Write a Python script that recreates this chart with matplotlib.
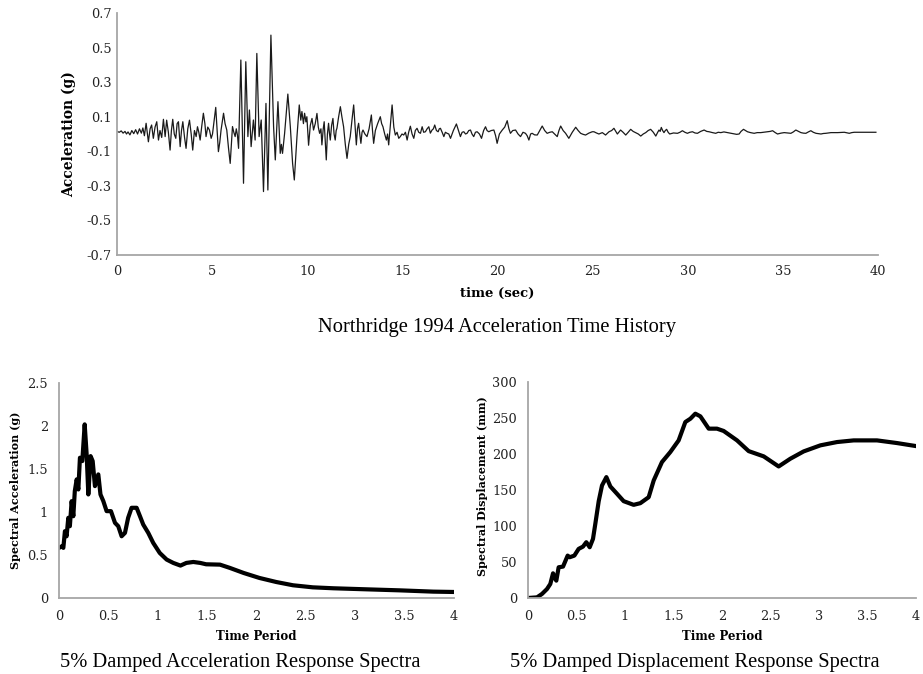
import matplotlib
matplotlib.use("Agg")
import matplotlib.pyplot as plt
import numpy as np

# Northridge 1994 acceleration record, (time s, acceleration g)
quake_early = [
    (0.00, 0.015), (0.12, 0.010), (0.22, 0.018), (0.32, 0.005), (0.42, 0.015),
    (0.50, 0.000), (0.58, 0.012), (0.68, -0.005), (0.78, 0.020), (0.88, 0.002),
    (0.98, 0.025), (1.08, 0.000), (1.18, 0.030), (1.28, 0.005), (1.36, 0.035),
    (1.44, -0.010), (1.53, 0.062), (1.65, -0.045), (1.74, 0.030), (1.82, 0.052),
    (1.91, -0.025), (2.00, 0.040), (2.09, 0.071), (2.18, -0.035), (2.26, 0.020),
    (2.35, -0.020), (2.44, 0.085), (2.53, -0.015), (2.61, 0.080), (2.70, 0.010),
    (2.79, -0.093), (2.86, 0.020), (2.93, 0.085), (3.01, 0.000), (3.09, -0.025),
    (3.16, 0.060), (3.23, 0.071), (3.32, -0.073), (3.39, 0.020), (3.46, 0.071),
    (3.55, -0.020), (3.63, -0.083), (3.72, 0.030), (3.81, 0.080), (3.90, 0.000),
    (3.98, -0.093), (4.07, 0.020), (4.16, -0.015), (4.23, 0.042), (4.30, 0.010),
    (4.37, -0.035), (4.46, 0.050), (4.54, 0.120), (4.62, 0.060), (4.68, -0.015),
    (4.77, 0.040), (4.86, 0.023), (4.95, -0.025), (5.02, 0.000),
]
quake_strong = [
    (5.19, 0.154), (5.33, -0.102), (5.40, -0.050), (5.47, 0.023), (5.60, 0.120),
    (5.68, 0.060), (5.77, 0.023), (5.86, -0.080), (5.95, -0.170), (6.07, 0.043),
    (6.14, 0.010), (6.21, -0.015), (6.27, 0.030), (6.33, -0.006), (6.39, -0.083),
    (6.51, 0.428), (6.65, -0.285), (6.77, 0.418), (6.88, -0.015), (6.96, 0.139),
    (7.05, -0.073), (7.17, 0.081), (7.26, -0.035), (7.35, 0.466), (7.47, -0.015),
    (7.58, 0.081), (7.70, -0.333), (7.83, 0.177), (7.93, -0.324), (8.09, 0.572),
    (8.23, 0.043), (8.32, -0.150), (8.46, 0.187), (8.58, -0.112), (8.64, -0.060),
    (8.70, -0.112), (8.81, 0.004), (8.98, 0.231), (9.11, 0.043), (9.23, -0.170),
    (9.32, -0.266), (9.46, -0.015), (9.58, 0.168), (9.66, 0.080), (9.72, 0.130),
    (9.80, 0.060), (9.86, 0.120), (9.93, 0.070), (9.98, 0.100), (10.07, -0.065),
    (10.16, 0.050), (10.25, 0.090), (10.33, 0.023), (10.42, 0.060), (10.51, 0.119),
    (10.58, 0.040), (10.65, 0.004), (10.72, 0.030), (10.77, -0.063), (10.84, 0.030),
    (10.89, 0.071), (10.95, -0.050), (11.00, -0.150), (11.06, 0.000), (11.12, 0.062),
    (11.17, 0.000), (11.21, -0.035), (11.28, 0.050), (11.35, 0.090), (11.41, 0.000),
    (11.47, -0.035), (11.52, 0.020), (11.56, 0.033), (11.65, 0.100), (11.74, 0.158),
    (11.82, 0.100), (11.91, 0.042), (12.00, -0.060), (12.09, -0.141), (12.18, -0.060),
    (12.26, -0.015), (12.35, 0.080), (12.44, 0.168), (12.51, 0.050), (12.58, -0.063),
    (12.64, 0.030), (12.70, 0.062), (12.76, 0.000), (12.82, -0.054), (12.88, 0.010),
    (12.93, 0.023), (13.03, 0.000), (13.14, -0.015), (13.25, 0.030), (13.37, 0.110),
    (13.43, 0.020), (13.49, -0.054), (13.58, 0.020), (13.70, 0.060), (13.84, 0.100),
    (13.91, 0.060), (13.98, 0.042), (14.07, 0.000), (14.16, -0.035), (14.22, 0.000),
    (14.28, -0.063), (14.37, 0.050), (14.46, 0.168), (14.55, 0.040), (14.63, -0.006),
]
quake_coda = [
    (14.72, 0.010), (14.81, -0.025), (14.89, -0.015), (14.98, 0.000), (15.07, -0.006),
    (15.16, 0.010), (15.25, -0.035), (15.33, 0.010), (15.42, 0.045), (15.51, 0.000),
    (15.60, -0.025), (15.68, 0.020), (15.77, 0.033), (15.86, 0.010), (15.95, 0.004),
    (16.04, 0.042), (16.12, 0.010), (16.21, 0.013), (16.30, 0.030), (16.39, 0.042),
    (16.47, 0.005), (16.56, 0.023), (16.63, 0.030), (16.70, 0.052), (16.79, 0.020),
    (16.88, 0.013), (16.94, 0.030), (17.00, 0.033), (17.09, 0.010), (17.18, -0.015),
    (17.26, 0.010), (17.35, 0.004), (17.44, 0.000), (17.53, -0.025), (17.68, 0.020),
    (17.84, 0.058), (17.95, 0.020), (18.05, -0.015), (18.14, 0.010), (18.23, 0.013),
    (18.32, 0.000), (18.40, 0.004), (18.49, 0.020), (18.58, 0.023), (18.66, 0.000),
    (18.75, -0.015), (18.84, 0.010), (18.93, 0.013), (19.05, 0.000), (19.16, -0.025),
    (19.27, 0.020), (19.37, 0.042), (19.45, 0.020), (19.54, 0.013), (19.67, 0.020),
    (19.81, 0.023), (19.90, -0.010), (19.98, -0.054), (20.10, 0.000), (20.25, 0.023),
    (20.38, 0.040), (20.51, 0.077), (20.60, 0.030), (20.68, 0.004), (20.80, 0.020),
    (20.95, 0.023), (21.08, 0.000), (21.21, -0.015), (21.34, 0.010), (21.47, 0.004),
    (21.56, -0.010), (21.65, -0.035), (21.74, 0.000), (21.82, 0.004), (21.95, -0.005),
    (22.09, -0.006), (22.22, 0.020), (22.35, 0.046), (22.48, 0.020), (22.61, 0.004),
    (22.75, 0.010), (22.88, 0.013), (23.00, 0.000), (23.14, -0.015), (23.23, 0.020),
    (23.32, 0.046), (23.45, 0.020), (23.58, 0.004), (23.66, -0.010), (23.75, -0.025),
    (23.93, 0.010), (24.11, 0.039), (24.24, 0.020), (24.37, 0.004), (24.50, -0.002),
    (24.63, -0.006), (24.80, 0.005), (24.98, 0.013),
]
quake_tail = [
    (25.07, 0.013), (25.20, 0.006), (25.33, 0.000), (25.51, 0.008), (25.68, -0.006),
    (25.86, 0.013), (26.00, 0.020), (26.12, 0.033), (26.30, 0.000), (26.47, 0.023),
    (26.60, 0.010), (26.74, -0.006), (26.87, 0.010), (27.00, 0.027), (27.13, 0.015),
    (27.26, 0.008), (27.40, 0.000), (27.53, -0.012), (27.66, 0.000), (27.79, 0.008),
    (27.92, 0.020), (28.05, 0.027), (28.19, 0.010), (28.32, -0.012), (28.42, 0.010),
    (28.49, 0.023), (28.55, 0.015), (28.61, 0.038), (28.68, 0.020), (28.75, 0.008),
    (28.82, 0.020), (28.89, 0.027), (28.97, 0.010), (29.05, 0.000), (29.25, 0.006),
    (29.46, 0.004), (29.59, 0.010), (29.72, 0.019), (29.85, 0.010), (29.98, 0.004),
    (30.11, 0.010), (30.25, 0.013), (30.38, 0.006), (30.51, 0.004), (30.68, 0.015),
    (30.86, 0.023), (31.00, 0.015), (31.12, 0.013), (31.30, 0.008), (31.47, 0.004),
    (31.60, 0.010), (31.74, 0.008), (31.90, 0.012), (32.09, 0.008), (32.27, 0.004),
    (32.44, 0.000), (32.57, -0.002), (32.70, 0.000), (32.80, 0.015), (32.93, 0.027),
    (33.03, 0.020), (33.14, 0.013), (33.30, 0.008), (33.49, 0.004), (33.65, 0.008),
    (33.84, 0.008), (34.00, 0.010), (34.19, 0.013), (34.33, 0.015), (34.46, 0.019),
    (34.60, 0.008), (34.72, 0.000), (34.90, 0.005), (35.07, 0.008), (35.25, 0.006),
    (35.42, 0.004), (35.55, 0.012), (35.68, 0.023), (35.82, 0.015), (35.95, 0.008),
    (36.08, 0.005), (36.21, 0.004), (36.34, 0.012), (36.47, 0.019), (36.60, 0.010),
    (36.74, 0.004), (36.87, 0.002), (37.00, 0.000), (37.13, 0.003), (37.26, 0.004),
    (37.40, 0.006), (37.53, 0.008), (37.70, 0.008), (37.88, 0.008), (38.05, 0.009),
    (38.23, 0.010), (38.36, 0.007), (38.49, 0.004), (38.62, 0.008), (38.75, 0.010),
    (39.30, 0.010), (39.89, 0.010),
]

# 5% damped acceleration response spectrum
sa_period = [0.0, 0.03, 0.044, 0.06, 0.077, 0.094, 0.11, 0.128, 0.145, 0.16, 0.179,
             0.196, 0.212, 0.236, 0.26, 0.28, 0.297, 0.32, 0.341, 0.364, 0.398, 0.42,
             0.449, 0.482, 0.526, 0.567, 0.60, 0.634, 0.668, 0.70, 0.735, 0.786, 0.82,
             0.853, 0.904, 0.954, 1.02, 1.09, 1.157, 1.23, 1.29, 1.36, 1.43, 1.49, 1.63,
             1.73, 1.87, 2.03, 2.20, 2.37, 2.57, 2.78, 3.11, 3.45, 3.79, 4.0]
sa_value = [0.583, 0.602, 0.583, 0.777, 0.718, 0.932, 0.835, 1.126, 0.951, 1.243, 1.379,
            1.262, 1.631, 1.592, 2.019, 1.67, 1.204, 1.65, 1.592, 1.301, 1.437, 1.204,
            1.126, 1.01, 1.01, 0.874, 0.835, 0.718, 0.757, 0.932, 1.049, 1.049, 0.951,
            0.854, 0.757, 0.641, 0.524, 0.447, 0.408, 0.377, 0.408, 0.419, 0.408, 0.392, 0.388,
            0.35, 0.291, 0.233, 0.186, 0.148, 0.124, 0.113, 0.101, 0.089, 0.074, 0.07]

# 5% damped displacement response spectrum (mm)
sd_period = [0.0, 0.093, 0.144, 0.196, 0.23, 0.258, 0.275, 0.292, 0.316, 0.361, 0.409,
             0.43, 0.478, 0.522, 0.567, 0.601, 0.636, 0.67, 0.694, 0.729, 0.763, 0.808,
             0.849, 0.918, 0.986, 1.089, 1.158, 1.244, 1.296, 1.381, 1.467, 1.553, 1.622,
             1.674, 1.725, 1.777, 1.863, 1.948, 2.017, 2.155, 2.275, 2.43, 2.584, 2.704,
             2.842, 3.014, 3.186, 3.357, 3.598, 3.804, 4.0]
sd_value = [0.0, 0.9, 5.6, 12.5, 19.5, 34.3, 27.8, 24.1, 42.7, 43.6, 58.9,
            56.6, 58.9, 68.2, 71.4, 77.5, 70.5, 82.1, 103.0, 134.5, 156.3, 167.9,
            154.9, 144.7, 134.5, 129.4, 131.7, 140.0, 163.3, 188.8, 202.7, 218.9, 244.4,
            249.0, 256.0, 252.3, 235.2, 235.2, 232.0, 218.9, 204.0, 196.7, 182.7, 193.4,
            203.6, 212.0, 216.6, 218.9, 218.9, 215.2, 211.0]

quake = quake_early + quake_strong + quake_coda + quake_tail
hist_t = [p[0] for p in quake]
hist_a = [p[1] for p in quake]

W, H = 923, 674
fig = plt.figure(figsize=(W / 100, H / 100), dpi=100)

tick_font = {"family": "DejaVu Serif", "size": 9.3}
lab_font = {"family": "DejaVu Serif", "weight": "bold"}
cap_font = {"family": "Liberation Serif", "size": 14.8}
spine_col = "#a6a6a6"


def px_axes(x0, y0, x1, y1):
    return fig.add_axes([x0 / W, 1 - y1 / H, (x1 - x0) / W, (y1 - y0) / H])


def style(ax, ypad, xpad):
    for s in ("top", "right"):
        ax.spines[s].set_visible(False)
    for s in ("left", "bottom"):
        ax.spines[s].set_color(spine_col)
        ax.spines[s].set_linewidth(1.3)
    ax.tick_params(axis="both", length=0, colors="#222222")
    ax.tick_params(axis="y", pad=ypad)
    ax.tick_params(axis="x", pad=xpad)
    for lbl in ax.get_xticklabels() + ax.get_yticklabels():
        lbl.set_fontfamily(tick_font["family"])
        lbl.set_fontsize(tick_font["size"])


# top: time history
ax1 = px_axes(117, 13, 878, 255)
ax1.plot(hist_t, hist_a, color="#1a1a1a", lw=0.9)
ax1.set_xlim(0, 40)
ax1.set_ylim(-0.7, 0.7)
ax1.set_xticks(np.arange(0, 41, 5))
ax1.set_yticks([-0.7, -0.5, -0.3, -0.1, 0.1, 0.3, 0.5, 0.7])
ax1.set_yticklabels(["-0.7", "-0.5", "-0.3", "-0.1", "0.1", "0.3", "0.5", "0.7"])
style(ax1, 4, 7)
ax1.set_xlabel("time (sec)", fontsize=9.5, va="center", **lab_font)
ax1.xaxis.set_label_coords(0.5, -(293 - 255) / 242)
ax1.set_ylabel("Acceleration (g)", fontsize=10, va="center", **lab_font)
ax1.yaxis.set_label_coords(-(117 - 69) / 761, 0.5)
fig.text(497 / W, 1 - 328 / H, "Northridge 1994 Acceleration Time History",
         ha="center", va="center", **cap_font)

# bottom left: acceleration spectrum
ax2 = px_axes(59, 383, 454, 598)
ax2.plot(sa_period, sa_value, color="black", lw=3.0, solid_joinstyle="round")
ax2.set_xlim(0, 4)
ax2.set_ylim(0, 2.5)
ax2.set_xticks(np.arange(0, 4.01, 0.5))
ax2.set_xticklabels(["0", "0.5", "1", "1.5", "2", "2.5", "3", "3.5", "4"])
ax2.set_yticks(np.arange(0, 2.51, 0.5))
ax2.set_yticklabels(["0", "0.5", "1", "1.5", "2", "2.5"])
style(ax2, 8, 9)
ax2.set_xlabel("Time Period", fontsize=8.5, va="center", **lab_font)
ax2.xaxis.set_label_coords(0.5, -(637 - 598) / 215)
ax2.set_ylabel("Spectral Acceleration (g)", fontsize=8, va="center", **lab_font)
ax2.yaxis.set_label_coords(-(59 - 16) / 395, 0.5)
fig.text(240 / W, 1 - 663 / H, "5% Damped Acceleration Response Spectra",
         ha="center", va="center", **cap_font)

# bottom right: displacement spectrum
ax3 = px_axes(528, 382, 916, 598)
ax3.plot(sd_period, sd_value, color="black", lw=3.0, solid_joinstyle="round")
ax3.set_xlim(0, 4)
ax3.set_ylim(0, 300)
ax3.set_xticks(np.arange(0, 4.01, 0.5))
ax3.set_xticklabels(["0", "0.5", "1", "1.5", "2", "2.5", "3", "3.5", "4"])
ax3.set_yticks(np.arange(0, 301, 50))
style(ax3, 8, 9)
ax3.set_xlabel("Time Period", fontsize=8.5, va="center", **lab_font)
ax3.xaxis.set_label_coords(0.5, -(637 - 598) / 216)
ax3.set_ylabel("Spectral Displacement (mm)", fontsize=8, va="center", **lab_font)
ax3.yaxis.set_label_coords(-(528 - 482) / 388, 0.52)
fig.text(695 / W, 1 - 663 / H, "5% Damped Displacement Response Spectra",
         ha="center", va="center", **cap_font)

fig.savefig("out.png", dpi=100)
